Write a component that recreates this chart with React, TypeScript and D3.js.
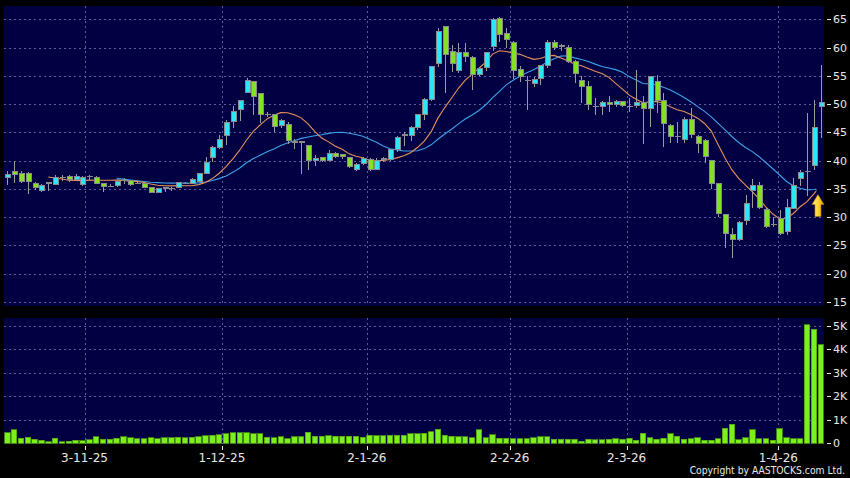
import React from 'react';
import * as d3 from 'd3';

// ---- data ----
const dateLabels = ['3-11-25', '1-12-25', '2-1-26', '2-2-26', '2-3-26', '1-4-26'];
// fractional candle index where each date tick / grid line sits
const dateTickIdx = [11.3, 31.4, 52.6, 73.5, 90.6, 112.8];

const priceTicks = [15, 20, 25, 30, 35, 40, 45, 50, 55, 60, 65];
const volTicks = [0, 1, 2, 3, 4, 5];
const volTickLabels = ['0', '1K', '2K', '3K', '4K', '5K'];

const opens = [
  37.1, 38.1, 37.8, 37.8, 36.0, 34.7, 36.0, 35.8, 37.1, 37.2,
  36.7, 35.8, 37.2, 37.0, 36.0, 35.6, 35.6, 36.6, 36.5, 36.1,
  36.0, 35.2, 34.4, 35.2, 35.1, 35.3, 36.0, 36.0, 36.3, 37.8,
  40.6, 42.4, 44.4, 46.9, 49.1, 52.1, 54.0, 51.9, 48.3, 48.1,
  46.2, 46.4, 43.4, 43.3, 42.6, 40.0, 40.5, 40.1, 41.3, 41.0,
  40.6, 38.5, 39.5, 40.2, 38.5, 40.2, 40.2, 41.9, 44.5, 44.4,
  45.9, 48.1, 50.9, 57.1, 63.8, 59.3, 56.0, 59.1, 58.2, 55.3,
  56.5, 60.2, 65.2, 62.5, 60.9, 56.2, 54.3, 53.6, 54.6, 56.9,
  60.9, 60.3, 60.0, 57.5, 54.2, 53.2, 49.7, 49.5, 50.3, 49.9,
  50.4, 49.7, 49.7, 50.2, 49.3, 54.0, 50.6, 46.2, 44.4, 43.8,
  47.3, 44.2, 43.5, 40.0, 35.9, 30.4, 27.0, 26.0, 29.4, 34.7,
  35.6, 31.4, 28.8, 29.7, 27.4, 31.6, 36.9, 38.1, 39.1, 49.6,
];
const highs = [
  38.1, 40.0, 38.1, 38.0, 36.3, 35.8, 36.3, 37.5, 37.5, 37.5,
  37.6, 37.3, 37.4, 37.2, 36.1, 35.8, 36.5, 37.0, 36.6, 36.3,
  36.1, 35.3, 35.2, 35.4, 35.4, 36.3, 36.3, 36.9, 37.9, 40.7,
  42.6, 44.6, 47.2, 49.6, 50.8, 54.6, 54.1, 52.0, 48.6, 48.3,
  47.3, 46.9, 43.8, 43.5, 42.8, 41.0, 40.7, 41.8, 41.5, 41.1,
  40.7, 39.6, 40.6, 40.5, 40.5, 40.6, 42.1, 44.3, 45.1, 46.1,
  48.3, 51.1, 56.8, 63.4, 63.9, 60.5, 60.8, 60.8, 58.5, 56.6,
  59.3, 65.3, 65.4, 63.5, 61.2, 56.8, 55.0, 54.8, 57.0, 61.3,
  61.4, 60.6, 60.4, 57.8, 54.9, 54.0, 51.0, 50.5, 51.4, 50.8,
  50.6, 51.0, 56.0, 51.5, 54.9, 55.2, 52.0, 46.5, 46.9, 47.8,
  49.3, 44.5, 43.9, 40.1, 36.0, 30.5, 28.0, 29.3, 34.0, 36.7,
  36.2, 31.6, 30.0, 31.3, 33.2, 37.0, 38.3, 48.4, 50.7, 56.9,
];
const lows = [
  35.7, 36.0, 36.0, 34.1, 34.8, 34.4, 34.7, 35.8, 36.4, 36.2,
  36.4, 35.6, 36.6, 35.9, 34.4, 35.3, 35.4, 35.8, 35.6, 35.8,
  35.1, 34.2, 34.3, 34.4, 34.6, 35.2, 35.8, 35.9, 36.2, 37.6,
  39.7, 42.0, 42.8, 45.8, 47.0, 52.0, 48.1, 46.6, 47.8, 45.1,
  45.8, 43.0, 42.0, 37.6, 38.4, 39.0, 39.8, 40.0, 40.5, 40.3,
  38.7, 38.2, 39.3, 38.2, 38.3, 39.8, 40.0, 41.5, 42.6, 43.5,
  45.5, 47.2, 50.6, 56.5, 51.9, 55.7, 55.5, 57.5, 52.5, 55.0,
  55.9, 59.4, 61.0, 60.0, 54.5, 53.9, 49.0, 53.0, 53.4, 56.4,
  59.5, 59.4, 57.3, 53.7, 50.2, 49.0, 48.1, 48.1, 48.6, 49.5,
  49.5, 48.6, 49.3, 43.0, 46.0, 48.5, 42.5, 43.2, 43.1, 43.1,
  44.0, 41.4, 39.6, 35.0, 30.0, 24.5, 22.8, 25.8, 28.7, 31.6,
  31.5, 28.1, 28.3, 26.9, 26.8, 31.4, 35.5, 33.7, 38.4, 44.0,
];
const closes = [
  37.5, 37.5, 36.3, 36.3, 35.3, 35.6, 36.1, 37.0, 37.15, 36.6,
  37.2, 37.1, 37.2, 36.0, 35.4, 35.6, 36.3, 36.6, 35.8, 36.1,
  35.3, 34.4, 35.1, 35.0, 35.1, 36.1, 36.0, 36.7, 37.8, 39.7,
  42.4, 43.8, 46.7, 48.7, 50.6, 54.2, 51.3, 48.1, 48.3, 46.1,
  47.1, 43.5, 43.3, 43.2, 40.0, 40.4, 40.0, 41.3, 40.7, 40.7,
  38.9, 39.4, 40.4, 38.5, 40.0, 40.3, 41.9, 44.1, 44.6, 45.9,
  48.1, 50.9, 56.6, 62.8, 58.7, 57.2, 59.1, 58.4, 55.3, 56.3,
  59.1, 65.0, 62.4, 61.5, 56.0, 54.9, 54.3, 54.3, 56.8, 60.9,
  60.1, 60.2, 57.5, 55.5, 53.2, 50.0, 49.7, 50.3, 49.9, 50.4,
  49.7, 49.7, 50.2, 49.3, 54.8, 50.6, 46.6, 44.2, 44.4, 47.3,
  44.6, 43.1, 40.8, 35.9, 30.6, 27.1, 26.0, 29.0, 32.4, 35.6,
  31.8, 28.4, 28.8, 27.2, 31.8, 35.6, 37.9, 38.1, 45.9, 50.2,
];
// volumes in thousands
const volumes = [
  0.45, 0.57, 0.21, 0.25, 0.18, 0.14, 0.06, 0.21, 0.06, 0.08,
  0.14, 0.11, 0.16, 0.27, 0.17, 0.17, 0.21, 0.27, 0.23, 0.20,
  0.20, 0.23, 0.20, 0.23, 0.23, 0.25, 0.23, 0.25, 0.28, 0.33,
  0.34, 0.37, 0.41, 0.44, 0.44, 0.45, 0.40, 0.40, 0.25, 0.24,
  0.28, 0.20, 0.27, 0.28, 0.47, 0.30, 0.30, 0.33, 0.30, 0.30,
  0.31, 0.30, 0.25, 0.35, 0.33, 0.33, 0.35, 0.35, 0.35, 0.40,
  0.40, 0.42, 0.50, 0.59, 0.35, 0.31, 0.27, 0.27, 0.23, 0.57,
  0.23, 0.37, 0.21, 0.21, 0.20, 0.20, 0.20, 0.23, 0.27, 0.28,
  0.17, 0.17, 0.17, 0.17, 0.08, 0.17, 0.16, 0.16, 0.17, 0.20,
  0.17, 0.21, 0.14, 0.42, 0.23, 0.17, 0.21, 0.40, 0.31, 0.17,
  0.20, 0.24, 0.14, 0.14, 0.20, 0.64, 0.82, 0.16, 0.23, 0.57,
  0.20, 0.20, 0.14, 0.62, 0.23, 0.20, 0.20, 5.03, 4.84, 4.18,
];
// closes just before the visible window (estimated from where the averages start)
const hiddenCloses = [38.6, 39.0, 38.8];
const maShort = 10;
const maLong = 20;
const copyright = 'Copyright by AASTOCKS.com Ltd.';

// ---- styles ----
const BG = '#000000';
const PANEL = '#000042';
const GRID = '#5c5c96';
const UP = '#2ee6f6';
const DOWN = '#84e21e';
const EDGE = '#8a8a8a';
const WICK = '#9c9c9c';
const VOL = '#7cf01c';
const VOL_EDGE = '#4f9c12';
const MA_S = '#e6915a';
const MA_L = '#3ea2ea';
const TXT = '#e8e8e8';
const FONT = 'DejaVu Sans, Verdana, sans-serif';

function movingAverage(n: number) {
  const all = [...hiddenCloses, ...closes];
  const off = hiddenCloses.length;
  const out: { i: number; v: number }[] = [];
  for (let i = 0; i < closes.length; i++) {
    const k = i + off;
    if (k < n - 1) continue;
    const v = d3.mean(all.slice(k - n + 1, k + 1)) as number;
    out.push({ i, v });
  }
  return out;
}

export default function App() {
  const W = 850;
  const H = 478;
  const main = { x0: 4, x1: 824, y0: 6, y1: 306 };
  const vol = { x0: 4, x1: 824, y0: 318, y1: 444 };

  const x = d3.scaleLinear().domain([0, closes.length - 1]).range([7.3, 820.7]);
  const y = d3.scaleLinear().domain([15, 65]).range([302, 19.3]);
  const yv = d3.scaleLinear().domain([0, 5]).range([443.3, 325.7]);

  const bodyW = 5;
  const volW = 5.4;

  const lineGen = d3
    .line<{ i: number; v: number }>()
    .x((d) => x(d.i))
    .y((d) => y(d.v));

  const maS = movingAverage(maShort);
  const maL = movingAverage(maLong);

  const px = (v: number) => Math.round(v) + 0.5;

  // arrow annotation (an opaque icon) near the last candle
  const ax = x(closes.length - 1.4);
  const ay = y(34.0);
  const arrow = [
    [0, 0], [6, 10], [3, 10], [3, 22], [-3, 22], [-3, 10], [-6, 10],
  ]
    .map(([dx, dy]) => `${ax + dx},${ay + dy}`)
    .join(' ');

  return (
    <svg
      width={W}
      height={H}
      style={{ position: 'absolute', left: 0, top: 0, display: 'block' }}
      fontFamily={FONT}
    >
      <defs>
        <linearGradient id="arrowGrad" x1="0" y1="0" x2="1" y2="0">
          <stop offset="0" stopColor="#fff08a" />
          <stop offset="0.5" stopColor="#ffd535" />
          <stop offset="1" stopColor="#e09a00" />
        </linearGradient>
      </defs>
      <rect x={0} y={0} width={W} height={H} fill={BG} />

      {/* main panel */}
      <rect x={main.x0} y={main.y0} width={main.x1 - main.x0} height={main.y1 - main.y0} fill={PANEL} />
      <g stroke={GRID} strokeWidth={1} strokeDasharray="2,3" shapeRendering="crispEdges">
        {priceTicks.map((t) => (
          <line key={'hp' + t} x1={main.x0} x2={main.x1} y1={px(y(t))} y2={px(y(t))} />
        ))}
        {dateTickIdx.map((t, k) => (
          <line key={'vp' + k} x1={px(x(t))} x2={px(x(t))} y1={main.y0} y2={main.y1} />
        ))}
      </g>

      {/* moving averages */}
      <path d={lineGen(maL) || ''} fill="none" stroke={MA_L} strokeWidth={1.1} />
      <path d={lineGen(maS) || ''} fill="none" stroke={MA_S} strokeWidth={1.1} />

      {/* candles */}
      <g shapeRendering="crispEdges">
        {closes.map((c, i) => {
          const o = opens[i];
          const cx = px(x(i));
          const top = y(Math.max(o, c));
          const bot = y(Math.min(o, c));
          const doji = Math.abs(o - c) < 0.06;
          return (
            <g key={'c' + i}>
              <line x1={cx} x2={cx} y1={y(highs[i])} y2={y(lows[i])} stroke={WICK} strokeWidth={1} />
              {doji ? (
                <line x1={cx - bodyW / 2 - 0.5} x2={cx + bodyW / 2 + 0.5} y1={px(top)} y2={px(top)} stroke={EDGE} strokeWidth={1} />
              ) : (
                <rect
                  x={cx - bodyW / 2}
                  y={top}
                  width={bodyW}
                  height={Math.max(1, bot - top)}
                  fill={c >= o ? UP : DOWN}
                  stroke={EDGE}
                  strokeWidth={1}
                />
              )}
            </g>
          );
        })}
      </g>

      {/* arrow icon with its own opaque backdrop */}
      <rect x={ax - 1.5} y={ay - 10} width={main.x1 - ax + 1.5} height={32} fill={PANEL} />
      <polygon points={arrow} fill="url(#arrowGrad)" stroke="#b07a00" strokeWidth={0.6} />

      {/* price axis */}
      {priceTicks.map((t) => (
        <g key={'pt' + t}>
          <line x1={826.5} x2={830.5} y1={px(y(t))} y2={px(y(t))} stroke={TXT} strokeWidth={1} shapeRendering="crispEdges" />
          <text x={833} y={y(t)} dy="0.36em" fontSize={11} fill={TXT}>
            {t}
          </text>
        </g>
      ))}

      {/* volume panel */}
      <rect x={vol.x0} y={vol.y0} width={vol.x1 - vol.x0} height={vol.y1 - vol.y0} fill={PANEL} />
      <g stroke={GRID} strokeWidth={1} strokeDasharray="2,3" shapeRendering="crispEdges">
        {volTicks.slice(1).map((t) => (
          <line key={'hv' + t} x1={vol.x0} x2={vol.x1} y1={px(yv(t))} y2={px(yv(t))} />
        ))}
        {dateTickIdx.map((t, k) => (
          <line key={'vv' + k} x1={px(x(t))} x2={px(x(t))} y1={vol.y0} y2={vol.y1} />
        ))}
      </g>
      <g shapeRendering="crispEdges">
        {volumes.map((v, i) => (
          <rect
            key={'v' + i}
            x={x(i) - volW / 2}
            y={yv(v)}
            width={volW}
            height={yv(0) - yv(v)}
            fill={VOL}
            stroke={VOL_EDGE}
            strokeWidth={0.8}
          />
        ))}
      </g>
      {volTicks.map((t, k) => (
        <g key={'vt' + t}>
          <line x1={826.5} x2={830.5} y1={px(yv(t))} y2={px(yv(t))} stroke={TXT} strokeWidth={1} shapeRendering="crispEdges" />
          <text x={833} y={yv(t)} dy="0.36em" fontSize={11} fill={TXT}>
            {volTickLabels[k]}
          </text>
        </g>
      ))}

      {/* date axis */}
      {dateTickIdx.map((t, k) => (
        <g key={'dt' + k}>
          <line x1={px(x(t))} x2={px(x(t))} y1={446} y2={450} stroke={TXT} strokeWidth={1} shapeRendering="crispEdges" />
          <text x={x(t)} y={462} textAnchor="middle" fontSize={12} fill={TXT}>
            {dateLabels[k]}
          </text>
        </g>
      ))}

      <text
        transform="translate(845,473.5) scale(0.88,1)"
        x={0}
        y={0}
        textAnchor="end"
        fontSize={10.5}
        fill={TXT}
      >
        {copyright}
      </text>
    </svg>
  );
}
